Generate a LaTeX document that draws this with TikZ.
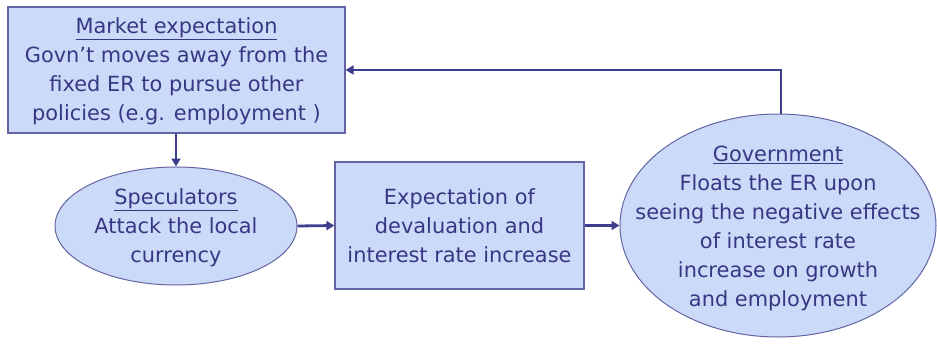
\documentclass[tikz,border=0pt]{standalone}
\usepackage{fontspec}
\setmainfont{DejaVu Sans}
\usetikzlibrary{shapes.geometric,arrows.meta}
\definecolor{fillblue}{RGB}{204,218,250}
\definecolor{txtblue}{RGB}{55,55,130}
\definecolor{edgeblue}{RGB}{100,100,165}
\definecolor{linkblue}{RGB}{62,62,142}
\tikzset{
  box/.style={draw=edgeblue, line width=1.2pt, fill=fillblue, rectangle, inner sep=0pt},
  oval/.style={draw=edgeblue, line width=1pt, fill=fillblue, ellipse, inner sep=0pt},
  label/.style={text=txtblue, align=center, font=\fontsize{20.9}{29}\selectfont, inner sep=0pt},
  link/.style={draw=linkblue, line width=2.8pt, -{Triangle[length=8pt,width=9pt]}}
}
\begin{document}
\begin{tikzpicture}[x=1pt,y=-1pt]
\useasboundingbox (0,0) rectangle (937,343);
\node[box, minimum width=337pt, minimum height=126pt] (mkt) at (176.5,70) {};
\node[label] (mkttext) at (176.5,71) {\underline{Market expectation}\\Govn’t moves away from the\\fixed ER to pursue other\\policies (e.g. employment )};
\node[oval, minimum width=242pt, minimum height=118pt] (spec) at (176,226) {};
\node[label] (spectext) at (176,228) {\underline{Speculators}\\Attack the local\\currency};
\node[box, minimum width=249pt, minimum height=127pt] (expn) at (459.5,225.5) {};
\node[label] (expntext) at (459.5,226) {Expectation of\\devaluation and\\interest rate increase};
\node[oval, minimum width=316pt, minimum height=223pt] (gov) at (778,225.5) {};
\node[label] (govtext) at (778,228) {\underline{Government}\\Floats the ER upon\\seeing the negative effects\\of interest rate\\increase on growth\\and employment};
\coordinate (corner) at (781,70);
\draw[link] (mkt.south -| spec.north) -- (spec.north);
\draw[link] (spec.east) -- (expn.west);
\draw[link] (expn.east) -- (gov.west);
\draw[link] (gov.north -| corner) -- (corner) -- (mkt.east);
\end{tikzpicture}
\end{document}
